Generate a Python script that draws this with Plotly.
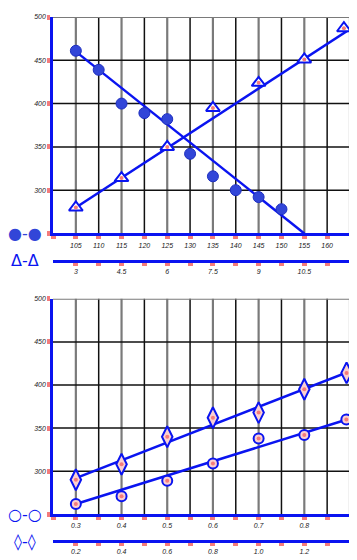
import plotly.graph_objects as go

# ── Data ──────────────────────────────────────────────────────────────────────

# upper chart, ● against T
t_pts = [105, 110, 115, 120, 125, 130, 135, 140, 145, 150]
t_vals = [461, 439, 400, 389, 382, 342, 316, 300, 292, 278]
t_fit_x = [105, 155]
t_fit_y = [460, 250]

# upper chart, Δ against ψ
psi_pts = [3, 4.5, 6, 7.5, 9, 10.5, 11.8]
psi_vals = [280, 314, 350, 395, 424, 451, 487]
psi_fit_x = [3, 12]
psi_fit_y = [280, 486]

# lower chart, ○ against S
s_pts = [0.3, 0.4, 0.5, 0.6, 0.7, 0.8, 0.892]
s_vals = [262, 271, 289, 309, 338, 342, 360]
s_fit_x = [0.3, 0.9]
s_fit_y = [262, 361]

# lower chart, ◊ against I
i_pts = [0.2, 0.4, 0.6, 0.8, 1.0, 1.2, 1.385]
i_vals = [290, 308, 340, 362, 368, 395, 414]
i_fit_x = [0.2, 1.4]
i_fit_y = [292, 416]

# axes
y_ticks = [250, 300, 350, 400, 450, 500]
y_labels = ["", "300", "350", "400", "450", "500"]

t_ticks = [100, 105, 110, 115, 120, 125, 130, 135, 140, 145, 150, 155, 160]
t_labels = ["", "105", "110", "115", "120", "125", "130", "135", "140", "145", "150", "155", "160"]
t_grid = [105, 110, 115, 120, 125, 130, 135, 140, 145, 150, 155, 160, 165]

psi_ticks = [3, 3.75, 4.5, 5.25, 6, 6.75, 7.5, 8.25, 9, 9.75, 10.5, 11.25]
psi_labels = ["3", "", "4.5", "", "6", "", "7.5", "", "9", "", "10.5", ""]

s_ticks = [0.25, 0.3, 0.35, 0.4, 0.45, 0.5, 0.55, 0.6, 0.65, 0.7, 0.75, 0.8, 0.85]
s_labels = ["", "0.3", "", "0.4", "", "0.5", "", "0.6", "", "0.7", "", "0.8", ""]
s_grid = [0.3, 0.35, 0.4, 0.45, 0.5, 0.55, 0.6, 0.65, 0.7, 0.75, 0.8, 0.85, 0.9]

i_ticks = [0.2, 0.3, 0.4, 0.5, 0.6, 0.7, 0.8, 0.9, 1.0, 1.1, 1.2, 1.3]
i_labels = ["0.2", "", "0.4", "", "0.6", "", "0.8", "", "1.0", "", "1.2", ""]

h_grid = [300, 350, 400, 450, 500]

# ── Style ─────────────────────────────────────────────────────────────────────

BLUE = "#0a14f0"
DOT_BLUE = "#3246d8"
PINK = "#f47c7c"
GRAY = "#7a7a7a"
BLACK = "#111111"
TICKFONT = dict(family="Liberation Sans", size=7, color="#222", style="italic")

fig = go.Figure()


def centre_dots(x, y, xaxis, yaxis):
    return go.Scatter(x=x, y=y, xaxis=xaxis, yaxis=yaxis, mode="markers",
                      marker=dict(size=4, color=PINK), showlegend=False,
                      hoverinfo="skip")


# upper chart
fig.add_trace(go.Scatter(x=t_fit_x, y=t_fit_y, mode="lines",
                         line=dict(color=BLUE, width=2.5), showlegend=False))
fig.add_trace(go.Scatter(x=t_pts, y=t_vals, mode="markers", showlegend=False,
                         marker=dict(symbol="circle", size=11, color=DOT_BLUE,
                                     line=dict(color="#1e2fc0", width=1))))
fig.add_trace(go.Scatter(x=psi_fit_x, y=psi_fit_y, xaxis="x3", yaxis="y", mode="lines",
                         line=dict(color=BLUE, width=2.5), showlegend=False))
fig.add_trace(go.Scatter(x=psi_pts, y=psi_vals, xaxis="x3", yaxis="y", mode="markers",
                         showlegend=False,
                         marker=dict(symbol="triangle-up", size=12, color="white",
                                     line=dict(color=BLUE, width=2))))
fig.add_trace(centre_dots(psi_pts, psi_vals, "x3", "y"))

# lower chart
fig.add_trace(go.Scatter(x=s_fit_x, y=s_fit_y, xaxis="x2", yaxis="y2", mode="lines",
                         line=dict(color=BLUE, width=2.5), showlegend=False))
fig.add_trace(go.Scatter(x=s_pts, y=s_vals, xaxis="x2", yaxis="y2", mode="markers",
                         showlegend=False,
                         marker=dict(symbol="circle", size=10, color="#fbd0d0",
                                     line=dict(color=BLUE, width=2))))
fig.add_trace(centre_dots(s_pts, s_vals, "x2", "y2"))
fig.add_trace(go.Scatter(x=i_fit_x, y=i_fit_y, xaxis="x4", yaxis="y2", mode="lines",
                         line=dict(color=BLUE, width=2.5), showlegend=False))
fig.add_trace(go.Scatter(x=i_pts, y=i_vals, xaxis="x4", yaxis="y2", mode="markers",
                         showlegend=False,
                         marker=dict(symbol="diamond-tall", size=15, color="#fbd0d0",
                                     line=dict(color=BLUE, width=2))))
fig.add_trace(centre_dots(i_pts, i_vals, "x4", "y2"))

# grid lines: grey on odd columns, black on even ones, grey frame right/top
shapes = []
for xref, yref, grid in (("x", "y domain", t_grid), ("x2", "y2 domain", s_grid)):
    for k, gx in enumerate(grid):
        odd = k % 2 == 0
        shapes.append(dict(type="line", xref=xref, yref=yref, x0=gx, x1=gx, y0=0, y1=1,
                           line=dict(color=GRAY if odd or k == len(grid) - 1 else BLACK,
                                     width=2.2 if odd else 1.5),
                           layer="below"))
for xref, yref in (("x domain", "y"), ("x2 domain", "y2")):
    for gy in h_grid:
        shapes.append(dict(type="line", xref=xref, yref=yref, x0=0, x1=1, y0=gy, y1=gy,
                           line=dict(color=GRAY if gy == 500 else BLACK,
                                     width=2 if gy == 500 else 1.5),
                           layer="below"))


def x_axis(ticks, labels, rng, **kw):
    return dict(range=rng, tickmode="array", tickvals=ticks, ticktext=labels,
                showgrid=False, zeroline=False, showline=True, linecolor=BLUE,
                linewidth=2.5, ticks="outside", ticklen=3, tickwidth=5,
                tickcolor=PINK, tickfont=TICKFONT, ticklabelstandoff=0, **kw)


def y_axis(domain):
    return dict(domain=domain, range=[250, 500], tickmode="array", tickvals=y_ticks,
                ticktext=y_labels, showgrid=False, zeroline=False, showline=True,
                linecolor=BLUE, linewidth=2.5, ticks="outside", ticklen=3,
                tickwidth=5, tickcolor=PINK, tickfont=TICKFONT)


# the page adds an 8px body margin, so the figure is sized to fit inside it
fig.update_layout(
    width=349, height=552,
    margin=dict(l=45, r=7, t=5, b=12),
    plot_bgcolor="white", paper_bgcolor="white",
    showlegend=False,
    shapes=shapes,
    xaxis=x_axis(t_ticks, t_labels, [100, 165], anchor="y"),
    xaxis3=x_axis(psi_ticks, psi_labels, [2.25, 12], overlaying="x",
                  anchor="free", position=0.5346, side="bottom"),
    xaxis2=x_axis(s_ticks, s_labels, [0.25, 0.9], anchor="y2"),
    xaxis4=x_axis(i_ticks, i_labels, [0.1, 1.4], overlaying="x2",
                  anchor="free", position=0, side="bottom"),
    yaxis=y_axis([0.5869, 1]),
    yaxis2=y_axis([0.051, 0.4622]),
)

# series keys on the left and axis names on the right
keys = [("●-●", 0.587, DOT_BLUE), ("Δ-Δ", 0.5346, BLUE),
        ("○-○", 0.051, BLUE), ("◊-◊", 0.0, BLUE)]
for text, py, col in keys:
    fig.add_annotation(text=text, xref="paper", yref="paper", x=-0.093, y=py,
                       xanchor="center", yanchor="middle", showarrow=False,
                       font=dict(family="DejaVu Sans", size=16, color=col))

names = [("T₀", 0.5869, 7), ("ψ", 0.5346, 8), ("S", 0.051, 8), ("I", 0.0, 8)]
for text, py, size in names:
    fig.add_annotation(text=text, xref="paper", yref="paper", x=0.997, y=py,
                       xanchor="left", yanchor="middle", showarrow=False,
                       borderpad=0,
                       font=dict(family="Liberation Sans Narrow, Liberation Sans",
                                 size=size, color="#333", style="italic"))

fig.write_html("out.html")
